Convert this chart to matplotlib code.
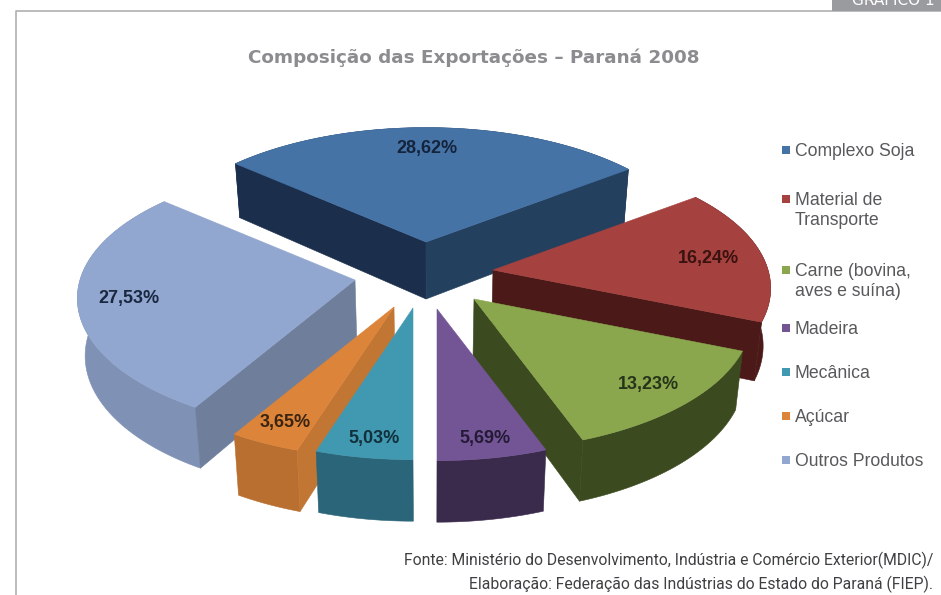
import numpy as np
import matplotlib
matplotlib.use("Agg")
import matplotlib.pyplot as plt
from matplotlib.patches import Polygon

# data
categories = ["Complexo Soja", "Material de\nTransporte", "Carne (bovina,\naves e suína)",
              "Madeira", "Mecânica", "Açúcar", "Outros Produtos"]
values = [28.62, 16.24, 13.23, 5.69, 5.03, 3.65, 27.53]

# colours: top, arc wall, start edge wall, end edge wall
top_colors = ["#4673a6", "#a5413f", "#8aa74e", "#735596", "#4199b1", "#dc843a", "#92a7cf"]
arc_colors = ["#24405f", "#4b1a18", "#3b4a1f", "#3a2a4c", "#2b6579", "#b86f2f", "#7f91b5"]
start_walls = ["#1b2f4c", None, None, None, None, "#c27633", "#6e7e9b"]
end_walls = ["#24405f", "#4b1a18", "#3b4a1f", None, None, None, None]
label_colors = ["#14243c", "#3a1210", "#26351a", "#251a35", "#12303c", "#3a2410", "#1a2740"]

# layout, pixels of the 941x595 picture
apex_x = [426, 493, 474, 437, 413, 394, 355]
apex_y = [242, 270, 299, 309, 308, 307, 280]
label_x = [427, 708, 648, 485, 374, 285, 129]
label_y = [148, 258, 383, 437, 437, 422, 298]
legend_y = [150, 209, 280, 328, 372, 416, 460]
draw_order = [0, 1, 6, 2, 5, 4, 3]

rx = 275
ry = 133
persp = 0.14
height = 57
height_persp = 0.08
base_shrink = 0.022
start_angle = 180 - 360 * sum(values[:4]) / sum(values)


def project(cx, cy, ang):
    # clockwise from 12 o'clock, with a little perspective
    a = np.radians(ang)
    X, Y = np.sin(a), np.cos(a)
    px = cx + rx * X * (1 - persp * Y)
    py = cy - ry * Y * (1 - persp * Y)
    drop = height * (1 - height_persp * Y)
    return px, py, drop


def wall(ax, xs, ys, drops, color, z):
    # the foot of the pie is further from the eye, so it pulls in a little
    foot_x = xs - base_shrink * (xs - 430)
    pts = np.concatenate([np.column_stack([xs, ys]),
                          np.column_stack([foot_x, ys + drops])[::-1]])
    ax.add_patch(Polygon(pts, closed=True, facecolor=color, edgecolor=color, linewidth=0.4, zorder=z))


fig = plt.figure(figsize=(9.41, 5.95), dpi=100)
ax = fig.add_axes([0, 0, 1, 1])
ax.set_xlim(0, 941)
ax.set_ylim(595, 0)
ax.axis("off")

# frame and the tab
ax.plot([16, 16, 941], [595, 10.5, 10.5], color="#b0b0b2", linewidth=1.2, zorder=1)
ax.fill_between([832, 941], 0, 10.5, color="#9a9b9f", linewidth=0, zorder=2)
ax.text(893, 5, "GRÁFICO 1", color="white", fontsize=11, family="DejaVu Sans", ha="center", va="baseline", zorder=3)

ax.text(474, 58, "Composição das Exportações – Paraná 2008", color="#8a8c8f", fontsize=13.2,
        family="DejaVu Sans", weight="bold", ha="center", va="center")

edges = start_angle + np.cumsum([0] + values) * 360 / sum(values)

for n, i in enumerate(draw_order):
    z = 10 + n
    a0, a1 = edges[i], edges[i + 1]
    cx, cy = apex_x[i], apex_y[i]
    angs = np.linspace(a0, a1, 80)
    xs, ys, drops = project(cx, cy, angs)
    wall(ax, xs, ys, drops, arc_colors[i], z)
    if start_walls[i]:
        wall(ax, np.array([cx, xs[0]]), np.array([cy, ys[0]]), np.array([height, drops[0]]), start_walls[i], z)
    if end_walls[i]:
        wall(ax, np.array([cx, xs[-1]]), np.array([cy, ys[-1]]), np.array([height, drops[-1]]), end_walls[i], z)
    top = np.vstack([[cx, cy], np.column_stack([xs, ys])])
    ax.add_patch(Polygon(top, closed=True, facecolor=top_colors[i], edgecolor=top_colors[i],
                         linewidth=0.4, zorder=z))

for i, v in enumerate(values):
    ax.text(label_x[i], label_y[i] + 1, f"{v:.2f}".replace(".", ",") + "%", color=label_colors[i], fontsize=13,
            family="Liberation Sans", weight="bold", ha="center", va="center", zorder=30)

# legend
for i, c in enumerate(categories):
    first_y = legend_y[i] - 10.5 if "\n" in c else legend_y[i]
    ax.scatter([786.5], [first_y], marker="s", s=34, color=top_colors[i], linewidth=0, zorder=5)
    ax.text(795, legend_y[i] + 1.5, c, color="#58595b", fontsize=12.7, family="Liberation Sans",
            ha="left", va="center", linespacing=1.3)

ax.text(933, 572.5, "Fonte: Ministério do Desenvolvimento, Indústria e Comércio Exterior(MDIC)/\n"
        "Elaboração: Federação das Indústrias do Estado do Paraná (FIEP).",
        color="#3f4042", fontsize=11.3, family="Roboto", ha="right", va="center", multialignment="right",
        linespacing=1.45)

fig.savefig("out.png", dpi=100)
